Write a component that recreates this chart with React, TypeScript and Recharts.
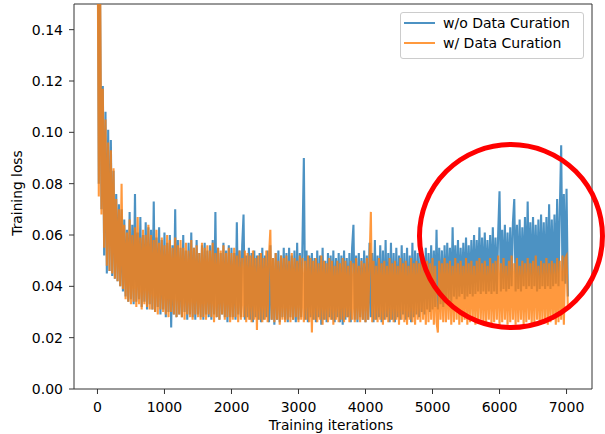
import React from 'react';
import { LineChart, Line, XAxis, YAxis, ReferenceLine, ReferenceDot, Legend } from 'recharts';

// loss logged every STEP iterations, one row = 400 iterations
const STEP = 20;

// w/o Data Curation
const woCuration = [
  0.215, 0.080, 0.150, 0.070, 0.118, 0.052, 0.108, 0.045, 0.101, 0.046, 0.097, 0.044, 0.085, 0.043, 0.076, 0.042, 0.072, 0.040, 0.070, 0.038,
  0.066, 0.036, 0.062, 0.034, 0.069, 0.035, 0.064, 0.033, 0.076, 0.034, 0.061, 0.035, 0.067, 0.032, 0.060, 0.034, 0.065, 0.031, 0.063, 0.033,
  0.062, 0.031, 0.073, 0.030, 0.059, 0.032, 0.063, 0.029, 0.058, 0.031, 0.061, 0.028, 0.057, 0.030, 0.060, 0.024, 0.056, 0.029, 0.070, 0.028,
  0.058, 0.029, 0.055, 0.028, 0.060, 0.030, 0.054, 0.027, 0.057, 0.029, 0.061, 0.028, 0.055, 0.027, 0.058, 0.029, 0.053, 0.028, 0.056, 0.027,
  0.057, 0.029, 0.054, 0.028, 0.056, 0.027, 0.058, 0.029, 0.069, 0.028, 0.055, 0.027, 0.053, 0.029, 0.057, 0.028, 0.054, 0.026, 0.056, 0.028,
  0.055, 0.028, 0.053, 0.027, 0.065, 0.029, 0.054, 0.028, 0.056, 0.068, 0.027, 0.052, 0.028, 0.055, 0.027, 0.053, 0.026, 0.054, 0.028, 0.052,
  0.027, 0.053, 0.026, 0.055, 0.027, 0.052, 0.028, 0.054, 0.026, 0.056, 0.027, 0.051, 0.025, 0.053, 0.027, 0.054, 0.026, 0.052, 0.028, 0.055,
  0.027, 0.053, 0.026, 0.055, 0.028, 0.052, 0.027, 0.054, 0.026, 0.057, 0.027, 0.053, 0.028, 0.058, 0.090, 0.027, 0.054, 0.026, 0.052, 0.028,
  0.053, 0.027, 0.051, 0.026, 0.054, 0.028, 0.052, 0.025, 0.055, 0.027, 0.050, 0.026, 0.053, 0.028, 0.052, 0.027, 0.054, 0.026, 0.051, 0.028,
  0.053, 0.026, 0.052, 0.025, 0.054, 0.027, 0.051, 0.028, 0.053, 0.026, 0.055, 0.064, 0.027, 0.052, 0.026, 0.053, 0.028, 0.051, 0.027, 0.054,
  0.026, 0.052, 0.027, 0.057, 0.028, 0.053, 0.026, 0.058, 0.027, 0.052, 0.028, 0.056, 0.026, 0.054, 0.027, 0.058, 0.028, 0.053, 0.026, 0.057,
  0.027, 0.053, 0.026, 0.055, 0.028, 0.052, 0.027, 0.056, 0.029, 0.053, 0.027, 0.055, 0.028, 0.052, 0.026, 0.057, 0.028, 0.054, 0.029, 0.053,
  0.028, 0.054, 0.030, 0.052, 0.029, 0.055, 0.031, 0.053, 0.030, 0.056, 0.031, 0.054, 0.032, 0.062, 0.031, 0.055, 0.033, 0.054, 0.032, 0.056,
  0.034, 0.057, 0.035, 0.055, 0.034, 0.063, 0.036, 0.056, 0.035, 0.058, 0.036, 0.055, 0.037, 0.057, 0.035, 0.059, 0.036, 0.056, 0.037, 0.058,
  0.036, 0.060, 0.037, 0.058, 0.038, 0.063, 0.037, 0.059, 0.038, 0.061, 0.037, 0.058, 0.038, 0.060, 0.037, 0.063, 0.038, 0.059, 0.037, 0.061,
  0.077, 0.038, 0.062, 0.039, 0.064, 0.038, 0.061, 0.039, 0.063, 0.040, 0.065, 0.074, 0.038, 0.064, 0.039, 0.066, 0.038, 0.063, 0.040, 0.067,
  0.039, 0.073, 0.040, 0.065, 0.039, 0.067, 0.040, 0.064, 0.038, 0.066, 0.039, 0.068, 0.040, 0.065, 0.039, 0.067, 0.040, 0.072, 0.039, 0.066,
  0.040, 0.068, 0.041, 0.074, 0.040, 0.070, 0.095, 0.042, 0.076, 0.041, 0.078, 0.036,
];

// w/ Data Curation
const wCuration = [
  0.195, 0.075, 0.160, 0.068, 0.117, 0.055, 0.105, 0.048, 0.096, 0.046, 0.093, 0.045, 0.086, 0.043, 0.074, 0.042, 0.070, 0.040, 0.080, 0.039,
  0.064, 0.035, 0.061, 0.034, 0.066, 0.033, 0.060, 0.034, 0.063, 0.032, 0.067, 0.033, 0.059, 0.031, 0.062, 0.033, 0.060, 0.032, 0.064, 0.031,
  0.060, 0.031, 0.058, 0.030, 0.062, 0.029, 0.057, 0.031, 0.059, 0.030, 0.056, 0.029, 0.060, 0.028, 0.058, 0.030, 0.055, 0.029, 0.059, 0.028,
  0.056, 0.029, 0.058, 0.028, 0.055, 0.027, 0.057, 0.029, 0.054, 0.028, 0.058, 0.027, 0.055, 0.029, 0.056, 0.028, 0.053, 0.027, 0.057, 0.028,
  0.055, 0.027, 0.056, 0.029, 0.054, 0.028, 0.057, 0.026, 0.053, 0.028, 0.055, 0.027, 0.054, 0.029, 0.056, 0.027, 0.053, 0.028, 0.055, 0.026,
  0.053, 0.027, 0.055, 0.028, 0.052, 0.026, 0.054, 0.027, 0.051, 0.028, 0.054, 0.026, 0.053, 0.027, 0.052, 0.026, 0.054, 0.027, 0.051, 0.023,
  0.052, 0.027, 0.053, 0.026, 0.051, 0.027, 0.054, 0.026, 0.052, 0.062, 0.027, 0.051, 0.026, 0.053, 0.027, 0.050, 0.025, 0.052, 0.027, 0.051,
  0.026, 0.052, 0.027, 0.050, 0.026, 0.053, 0.027, 0.051, 0.028, 0.050, 0.026, 0.052, 0.027, 0.051, 0.026, 0.050, 0.027, 0.052, 0.026, 0.051,
  0.022, 0.050, 0.027, 0.051, 0.026, 0.049, 0.027, 0.052, 0.025, 0.050, 0.027, 0.049, 0.026, 0.051, 0.027, 0.050, 0.025, 0.048, 0.027, 0.050,
  0.026, 0.049, 0.027, 0.051, 0.026, 0.050, 0.028, 0.048, 0.026, 0.050, 0.027, 0.049, 0.026, 0.051, 0.027, 0.048, 0.026, 0.050, 0.027, 0.049,
  0.026, 0.051, 0.027, 0.049, 0.069, 0.026, 0.050, 0.027, 0.048, 0.026, 0.051, 0.027, 0.049, 0.025, 0.050, 0.027, 0.048, 0.026, 0.051, 0.027,
  0.049, 0.026, 0.050, 0.027, 0.048, 0.025, 0.051, 0.027, 0.049, 0.026, 0.050, 0.025, 0.048, 0.027, 0.051, 0.026, 0.049, 0.025, 0.050, 0.027,
  0.049, 0.026, 0.051, 0.027, 0.048, 0.025, 0.050, 0.026, 0.049, 0.027, 0.051, 0.025, 0.048, 0.026, 0.022, 0.050, 0.027, 0.049, 0.026, 0.051,
  0.026, 0.049, 0.027, 0.050, 0.025, 0.048, 0.026, 0.051, 0.027, 0.049, 0.025, 0.050, 0.026, 0.048, 0.027, 0.051, 0.025, 0.049, 0.026, 0.050,
  0.027, 0.048, 0.025, 0.050, 0.026, 0.051, 0.027, 0.049, 0.025, 0.050, 0.026, 0.048, 0.027, 0.051, 0.025, 0.049, 0.026, 0.050, 0.027, 0.052,
  0.025, 0.049, 0.026, 0.051, 0.027, 0.048, 0.025, 0.050, 0.026, 0.052, 0.027, 0.049, 0.025, 0.051, 0.026, 0.048, 0.027, 0.050, 0.025, 0.049,
  0.026, 0.051, 0.027, 0.049, 0.025, 0.050, 0.026, 0.052, 0.027, 0.048, 0.025, 0.050, 0.026, 0.049, 0.027, 0.051, 0.025, 0.049, 0.026, 0.050,
  0.027, 0.049, 0.025, 0.051, 0.026, 0.050, 0.027, 0.052, 0.025, 0.051, 0.052, 0.031,
];

const seriesNames = ['w/o Data Curation', 'w/ Data Curation'];
const xTicks = [0, 1000, 2000, 3000, 4000, 5000, 6000, 7000];
const yTicks = [0, 0.02, 0.04, 0.06, 0.08, 0.1, 0.12, 0.14];

const FONT = '"DejaVu Sans", sans-serif';
const colors = ['#1f77b4', '#ff7f0e'];
const spine = '#333333';
const LINE_W = 2.1;

const data = woCuration.map((v, i) => ({ iter: i * STEP, wo: v, w: wCuration[i] }));

const LegendBox = () => (
  <div
    style={{
      width: 184,
      height: 47,
      boxSizing: 'border-box',
      border: '1px solid #cccccc',
      borderRadius: 3,
      background: 'rgba(255,255,255,0.8)',
      position: 'relative',
      fontFamily: FONT,
      fontSize: 14,
    }}
  >
    {seriesNames.map((name, i) => (
      <div
        key={name}
        style={{ position: 'absolute', left: 3, top: i * 20, height: 20, display: 'flex', alignItems: 'center' }}
      >
        <span style={{ display: 'inline-block', width: 31, height: 0, borderTop: `2px solid ${colors[i]}`, opacity: 0.8 }} />
        <span style={{ marginLeft: 8, color: '#000', lineHeight: '20px', whiteSpace: 'nowrap' }}>{name}</span>
      </div>
    ))}
  </div>
);

const XTitle = () => (
  <text x={331} y={430} textAnchor="middle" fontFamily={FONT} fontSize={13.8} fill="#000">
    Training iterations
  </text>
);

const YTitle = () => (
  <text x={22} y={193} transform="rotate(-90 22 193)" textAnchor="middle" fontFamily={FONT} fontSize={13.8} fill="#000">
    Training loss
  </text>
);

export default function App() {
  const tick = { fontSize: 14, fontFamily: FONT, fill: '#000' };
  return (
    <div style={{ position: 'absolute', left: 0, top: 0, width: 605, height: 434, background: '#fff' }}>
      <LineChart width={605} height={434} data={data} margin={{ top: 4, right: 13, bottom: 15, left: 14 }}>
        <XAxis
          type="number"
          dataKey="iter"
          domain={[-350, 7380]}
          ticks={xTicks}
          allowDataOverflow
          height={30}
          tickSize={5}
          tickMargin={8}
          tick={tick}
          axisLine={{ stroke: spine, strokeWidth: 1 }}
          tickLine={{ stroke: spine, strokeWidth: 1 }}
          label={<XTitle />}
        />
        <YAxis
          type="number"
          domain={[0, 0.15]}
          ticks={yTicks}
          allowDataOverflow
          width={60}
          tickSize={5}
          tickMargin={6}
          tick={tick}
          tickFormatter={(v: number) => v.toFixed(2)}
          axisLine={{ stroke: spine, strokeWidth: 1 }}
          tickLine={{ stroke: spine, strokeWidth: 1 }}
          label={<YTitle />}
        />
        <ReferenceLine y={0.15} stroke={spine} strokeWidth={1} />
        <ReferenceLine x={7380} stroke={spine} strokeWidth={1} />
        <Line
          dataKey="wo"
          name={seriesNames[0]}
          stroke={colors[0]}
          strokeOpacity={0.8}
          strokeWidth={LINE_W}
          dot={false}
          activeDot={false}
          isAnimationActive={false}
        />
        <Line
          dataKey="w"
          name={seriesNames[1]}
          stroke={colors[1]}
          strokeOpacity={0.8}
          strokeWidth={LINE_W}
          dot={false}
          activeDot={false}
          isAnimationActive={false}
        />
        <ReferenceDot x={6171} y={0.0596} r={91.5} fill="none" stroke="#ff0000" strokeWidth={5} />
        <Legend
          layout="horizontal"
          verticalAlign="middle"
          align="center"
          wrapperStyle={{ left: 400, top: 12, width: 184, height: 47 }}
          content={() => <LegendBox />}
        />
      </LineChart>
    </div>
  );
}
